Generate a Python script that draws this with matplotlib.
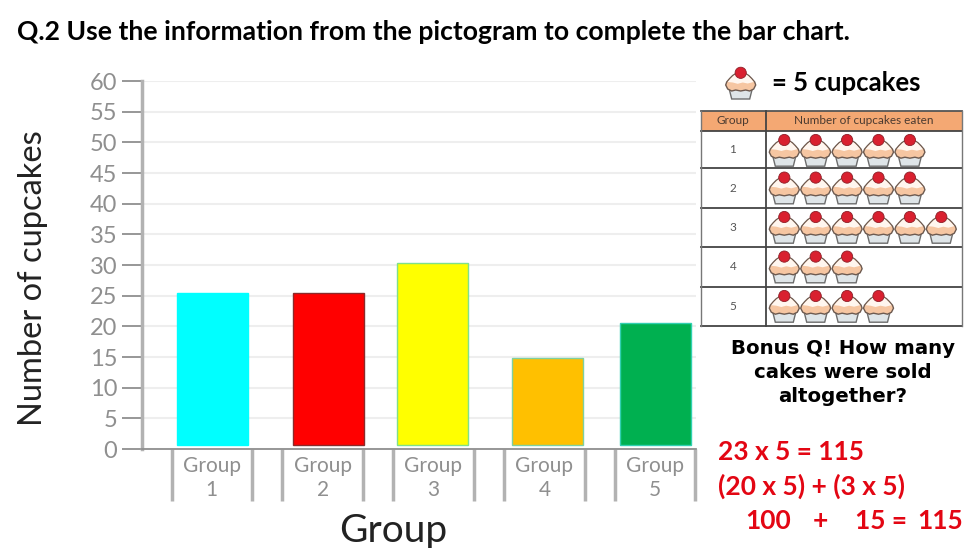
import matplotlib
matplotlib.use('Agg')
import matplotlib.pyplot as plt
from matplotlib.patches import Circle, Polygon, Rectangle

groups = ['Group\n1', 'Group\n2', 'Group\n3', 'Group\n4', 'Group\n5']
bar_tops = [25.4, 25.4, 30.4, 14.9, 20.6]
bar_base = 0.6
bar_shift = [0.01, 0.05, -0.01, 0.03, 0.0]
bar_colors = ['#00FFFF', '#FF0000', '#FFFF00', '#FFC000', '#00B050']
edge_colors = ['#00FFFF', '#8B2A2A', '#7FE08A', '#7FD0A0', '#30D0B0']
y_ticks = list(range(0, 65, 5))

picto_rows = ['1', '2', '3', '4', '5']
picto_counts = [5, 5, 6, 3, 4]
row_lines = [130.7, 168.3, 207.7, 247.3, 286.7, 325.5]

W, H = 975, 548
GREY = '#8f8f8f'
AXIS = '#b2b2b2'


def cupcake(a, cx, top, s=1.0):
	# s=1 is about 30 px wide, 32 px tall
	def pts(lst):
		return [(cx + x * s, top + y * s) for x, y in lst]
	wrap = [(-11.5, 22), (11.5, 22), (9, 32), (-9, 32)]
	a.add_patch(Polygon(pts(wrap), fc='#dfe5e8', ec='#6d6d6d', lw=1.0, zorder=5))
	frost = [(-15, 18), (-14, 15), (-11, 11.5), (-8, 8.5), (-4, 6), (4, 6), (8, 8.5), (11, 11.5), (14, 15), (15, 18),
		(13, 22), (9, 24), (5, 23), (0, 24), (-5, 23), (-9, 24), (-13, 22)]
	a.add_patch(Polygon(pts(frost), fc='#f6c6a2', ec='#6d5a50', lw=1.0, zorder=6))
	icing = [(-13, 15), (-10.5, 12), (-7.5, 9), (-4, 6.5), (4, 6.5), (7.5, 9), (10.5, 12), (13, 15),
		(7, 16.5), (2, 15.5), (-3, 16.8), (-8, 15.5)]
	a.add_patch(Polygon(pts(icing), fc='#fff6ef', ec='none', zorder=7))
	a.add_patch(Circle((cx, top + 5.8 * s), 5.6 * s, fc='#d9202f', ec='#8e1f28', lw=0.6, zorder=8))


fig = plt.figure(figsize=(W / 100, H / 100), dpi=100)
plt.rcParams['font.family'] = ['Lato', 'DejaVu Sans']

# bar chart
ax = fig.add_axes([141.5 / W, 1 - 449 / H, (696 - 141.5) / W, (449 - 81) / H])
x = [i + s for i, s in enumerate(bar_shift)]
heights = [t - bar_base for t in bar_tops]
ax.bar(x, heights, width=0.64, bottom=bar_base, color=bar_colors, edgecolor=edge_colors, linewidth=1, zorder=3)
ax.set_xlim(-0.633, 4.367)
ax.set_ylim(0, 60)
ax.set_yticks(y_ticks)
ax.set_xticks([])
ax.grid(axis='y', color='#eeeeee', lw=1.5, zorder=0)
ax.tick_params(axis='y', length=14.5, width=1.3, color=GREY, labelcolor=GREY, labelsize=17, pad=3)
for side in ['top', 'right']:
	ax.spines[side].set_visible(False)
ax.spines['left'].set_color(AXIS)
ax.spines['left'].set_linewidth(2.5)
ax.spines['bottom'].set_color(GREY)
ax.spines['bottom'].set_linewidth(1.3)

# group brackets under the axis
for i, g in enumerate(groups):
	ax.vlines([i - 0.362, i + 0.362], -8.5, 0, color=AXIS, lw=2.5, clip_on=False)
	ax.text(i, -1.2, g, ha='center', va='top', color=GREY, fontsize=15, linespacing=1.2, clip_on=False)

fig.text(33 / W, 1 - 278 / H, 'Number of cupcakes', rotation=90, ha='center', va='center', fontsize=23.5, color='#222222')
fig.text(393 / W, 1 - 531 / H, 'Group', ha='center', va='center', fontsize=28, color='#222222')

# everything else in pixel coordinates
ov = fig.add_axes([0, 0, 1, 1], facecolor='none')
ov.set_xlim(0, W)
ov.set_ylim(H, 0)
ov.axis('off')

ov.text(17, 32, 'Q.2 Use the information from the pictogram to complete the bar chart.', fontsize=19.1,
	fontweight='bold', va='center', color='black')

cupcake(ov, 740.7, 67, 1.0)
ov.text(772, 83, '= 5 cupcakes', fontsize=18.5, fontweight='bold', va='center', color='black')

# pictogram table
ov.add_patch(Rectangle((701, 110.7), 261, 20, fc='#f4a873', ec='none', zorder=1))
ov.plot([701, 962], [110.7, 110.7], color='#555555', lw=1.3, zorder=2)
for y in row_lines:
	ov.plot([701, 962], [y, y], color='#444444', lw=1.3, zorder=2)
ov.plot([766, 766], [110.7, 325.5], color='#444444', lw=1.3, zorder=2)
ov.plot([701, 701], [110.7, 325.5], color='#777777', lw=1, zorder=2)
ov.plot([962, 962], [110.7, 325.5], color='#777777', lw=1, zorder=2)
ov.text(733, 121, 'Group', ha='center', va='center', fontsize=8.5, color='#4a3a30')
ov.text(864, 121, 'Number of cupcakes eaten', ha='center', va='center', fontsize=8.5, color='#4a3a30')
for r, (name, n) in enumerate(zip(picto_rows, picto_counts)):
	ov.text(733, (row_lines[r] + row_lines[r + 1]) / 2, name, ha='center', va='center', fontsize=8.5, color='#555555')
	for k in range(n):
		cupcake(ov, 784.3 + 31.4 * k, row_lines[r] + 3.5, 1.0)

# bonus question
bonus = ['Bonus Q! How many', 'cakes were sold', 'altogether?']
for y, line in zip([348, 372, 396], bonus):
	ov.text(843, y, line, ha='center', va='center', fontsize=14.2, fontweight='bold', family='DejaVu Sans', color='black')

# worked answer
ov.text(718, 452, '23 x 5 = 115', fontsize=19, fontweight='bold', va='center', color='#e30613')
ov.text(718, 486, '(20 x 5) + (3 x 5)', fontsize=19, fontweight='bold', va='center', color='#e30613')
ov.text(745, 521, '100', fontsize=19, fontweight='bold', va='center', color='#e30613')
ov.text(813, 521, '+', fontsize=19, fontweight='bold', va='center', color='#e30613')
ov.text(855, 521, '15 =', fontsize=19, fontweight='bold', va='center', color='#e30613')
ov.text(917, 521, '115', fontsize=19, fontweight='bold', va='center', color='#e30613')

fig.savefig('out.png', dpi=100)
